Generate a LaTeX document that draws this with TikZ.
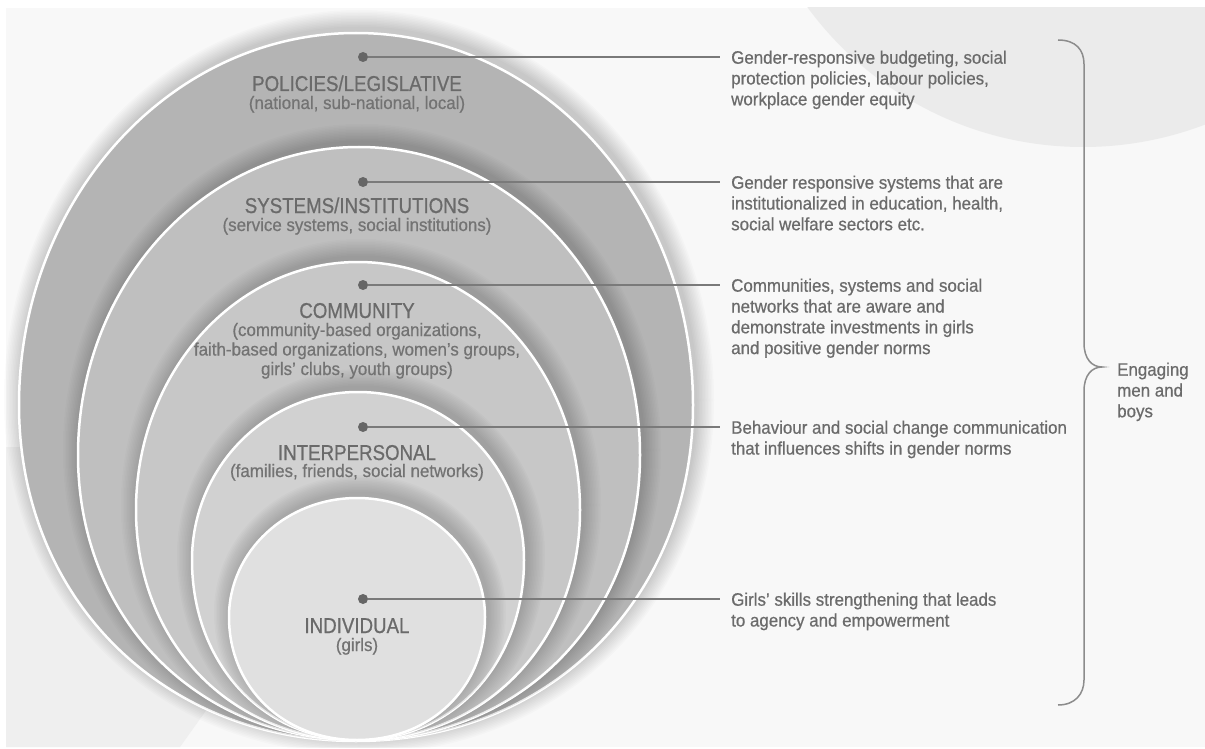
\documentclass[tikz,border=0pt]{standalone}
\usepackage{fontspec}
\setmainfont{Liberation Sans}
\newfontfamily\bodyfont{Liberation Sans}[FakeStretch=0.94,FakeBold=0.6]
\newfontfamily\titlefont{Liberation Sans}[FakeStretch=0.87,FakeBold=0.7]
\definecolor{panelbg}{HTML}{F8F8F8}
\definecolor{topcirc}{HTML}{EBEBEB}
\definecolor{blregion}{HTML}{EFEFEF}
\definecolor{ringA}{HTML}{B4B4B4}
\definecolor{ringB}{HTML}{BFBFBF}
\definecolor{ringC}{HTML}{C7C7C7}
\definecolor{ringD}{HTML}{D1D1D1}
\definecolor{ringE}{HTML}{E0E0E0}
\definecolor{dotgray}{HTML}{666666}
\definecolor{linegray}{HTML}{7A7A7A}
\definecolor{textgray}{HTML}{6B6B6B}
\definecolor{titlegray}{HTML}{6A6A6A}
\definecolor{subgray}{HTML}{737373}
\definecolor{bracegray}{HTML}{8C8C8C}
% #1 command, #2 cx, #3 cy, #4 rx, #5 top radius, #6 bottom radius
\newcommand\egg[6]{#1 ({#2},{(#3)-(#5)})
  .. controls ({(#2)+0.5523*(#4)},{(#3)-(#5)}) and ({(#2)+(#4)},{(#3)-0.5523*(#5)}) .. ({(#2)+(#4)},{#3})
  .. controls ({(#2)+(#4)},{(#3)+0.575*(#6)}) and ({(#2)+0.575*(#4)},{(#3)+(#6)}) .. ({#2},{(#3)+(#6)})
  .. controls ({(#2)-0.575*(#4)},{(#3)+(#6)}) and ({(#2)-(#4)},{(#3)+0.575*(#6)}) .. ({(#2)-(#4)},{#3})
  .. controls ({(#2)-(#4)},{(#3)-0.5523*(#5)}) and ({(#2)-0.5523*(#4)},{(#3)-(#5)}) .. cycle;}
\newcommand\eggShadow[5]{%
  \foreach \k in {1,...,12}{%
    \egg{\fill[black,opacity=0.016]}{#1+3}{#2-5}{#3+\k*1.5}{#4+\k*1.5}{#5+\k*1.5}%
  }%
}
\tikzset{
  ringedge/.style={draw=white, line width=2.5pt},
  dotnode/.style={circle, fill=dotgray, inner sep=0pt, minimum size=10pt},
  link/.style={draw=linegray, line width=1.3pt, shorten >=11pt},
  descr/.style={anchor=base west, inner sep=0pt, text=textgray, font=\bodyfont\fontsize{18}{20.8}\selectfont},
  ringtitle/.style={anchor=base, inner sep=0pt, text=titlegray, font=\titlefont\fontsize{21.5}{24}\selectfont},
  ringsub/.style={anchor=base, inner sep=0pt, text=subgray, font=\bodyfont\fontsize{18}{19.5}\selectfont},
  brace/.style={draw=bracegray, line width=1.5pt}
}
\begin{document}
\begin{tikzpicture}[x=1pt,y=-1pt]
\useasboundingbox (0,0) rectangle (1205,749);
\fill[white] (0,0) rectangle (1205,749);
\fill[panelbg] (6,8) rectangle (1205,747);
\begin{scope}
  \clip (6,8) rectangle (1205,747);
  \fill[topcirc] (1083,-194.5) circle [radius=341.5];
\end{scope}
\fill[blregion] (6,447) -- (330,447) -- (205,712) -- (180,747) -- (6,747) -- cycle;

% rings
\begin{scope}
  \clip (0,0) rectangle (1205,747);
  \eggShadow{356}{405}{337}{372}{336}
\end{scope}
\egg{\path[ringedge, fill=ringA]}{356}{405}{337}{372}{336}
\begin{scope}
  \egg{\clip}{356}{405}{337}{372}{336}
  \eggShadow{359}{455}{281}{308}{285}
\end{scope}
\egg{\path[ringedge, fill=ringB]}{359}{455}{281}{308}{285}
\begin{scope}
  \egg{\clip}{359}{455}{281}{308}{285}
  \eggShadow{358}{510}{222}{248}{230}
\end{scope}
\egg{\path[ringedge, fill=ringC]}{358}{510}{222}{248}{230}
\begin{scope}
  \egg{\clip}{358}{510}{222}{248}{230}
  \eggShadow{358}{560}{166}{168}{180}
\end{scope}
\egg{\path[ringedge, fill=ringD]}{358}{560}{166}{168}{180}
\begin{scope}
  \egg{\clip}{358}{560}{166}{168}{180}
  \eggShadow{357}{617}{128}{119}{123}
\end{scope}
\egg{\path[ringedge, fill=ringE]}{357}{617}{128}{119}{123}

% ring labels
\node[ringtitle] (p1) at (357,91) {POLICIES/LEGISLATIVE};
\node[ringsub] (s1) at (357,109) {(national, sub-national, local)};
\node[ringtitle] (p2) at (357,213) {SYSTEMS/INSTITUTIONS};
\node[ringsub] (s2) at (357,231) {(service systems, social institutions)};
\node[ringtitle] (p3) at (357,318) {COMMUNITY};
\node[ringsub] (s3) at (357,336) {\begin{tabular}[t]{@{}c@{}}(community-based organizations,\\faith-based organizations, women’s groups,\\girls’ clubs, youth groups)\end{tabular}};
\node[ringtitle] (p4) at (357,460) {INTERPERSONAL};
\node[ringsub] (s4) at (357,477) {(families, friends, social networks)};
\node[ringtitle] (p5) at (357,633) {INDIVIDUAL};
\node[ringsub] (s5) at (357,651) {(girls)};

% dots
\node[dotnode] (d1) at (363,57) {};
\node[dotnode] (d2) at (363,182) {};
\node[dotnode] (d3) at (363,285) {};
\node[dotnode] (d4) at (363,427) {};
\node[dotnode] (d5) at (363,599) {};

% descriptions
\node[descr] (t1) at (731,63.7) {\begin{tabular}[t]{@{}l@{}}Gender-responsive budgeting, social\\protection policies, labour policies,\\workplace gender equity\end{tabular}};
\node[descr] (t2) at (731,188.7) {\begin{tabular}[t]{@{}l@{}}Gender responsive systems that are\\institutionalized in education, health,\\social welfare sectors etc.\end{tabular}};
\node[descr] (t3) at (731,291.7) {\begin{tabular}[t]{@{}l@{}}Communities, systems and social\\networks that are aware and\\demonstrate investments in girls\\and positive gender norms\end{tabular}};
\node[descr] (t4) at (731,433.7) {\begin{tabular}[t]{@{}l@{}}Behaviour and social change communication\\that influences shifts in gender norms\end{tabular}};
\node[descr] (t5) at (731,605.7) {\begin{tabular}[t]{@{}l@{}}Girls’ skills strengthening that leads\\to agency and empowerment\end{tabular}};

% connectors
\draw[link] (d1) -- (d1 -| t1.west);
\draw[link] (d2) -- (d2 -| t2.west);
\draw[link] (d3) -- (d3 -| t3.west);
\draw[link] (d4) -- (d4 -| t4.west);
\draw[link] (d5) -- (d5 -| t5.west);

% brace
\coordinate (bTop) at (1058,40);
\coordinate (bTip) at (1102,367);
\coordinate (bBot) at (1058,705);
\draw[brace] (bTop) .. controls (1076,40) and (1084,50) .. (1084,64)
  -- (1084,343) .. controls (1084,359) and (1092,367) .. (bTip)
  .. controls (1092,367) and (1084,375) .. (1084,391)
  -- (1084,680) .. controls (1084,694) and (1075,705) .. (bBot);
\node[descr] (eng) at (1117,375.7) {\begin{tabular}[t]{@{}l@{}}Engaging\\men and\\boys\end{tabular}};
\end{tikzpicture}
\end{document}
